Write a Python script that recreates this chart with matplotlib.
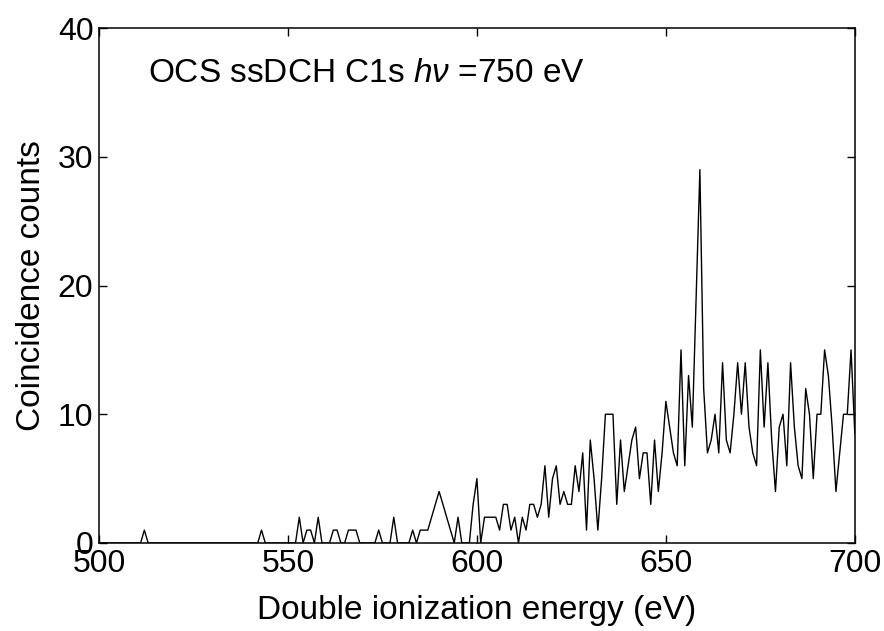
import numpy as np
import matplotlib
matplotlib.use("Agg")
import matplotlib.pyplot as plt

plt.rcParams['font.family'] = ['Liberation Sans', 'DejaVu Sans']
plt.rcParams['mathtext.fontset'] = 'custom'
plt.rcParams['mathtext.rm'] = 'Liberation Sans'
plt.rcParams['mathtext.it'] = 'Liberation Sans:italic'

# energy grid 500..700 eV, 1 eV steps
energy = np.arange(500, 701, 1)

counts = [
    # 500-549
    0, 0, 0, 0, 0, 0, 0, 0, 0, 0,
    0, 0, 1, 0, 0, 0, 0, 0, 0, 0,
    0, 0, 0, 0, 0, 0, 0, 0, 0, 0,
    0, 0, 0, 0, 0, 0, 0, 0, 0, 0,
    0, 0, 0, 1, 0, 0, 0, 0, 0, 0,
    # 550-599
    0, 0, 0, 2, 0, 1, 1, 0, 2, 0,
    0, 0, 1, 1, 0, 0, 1, 1, 1, 0,
    0, 0, 0, 0, 1, 0, 0, 0, 2, 0,
    0, 0, 0, 1, 0, 1, 1, 1, 2, 3,
    4, 3, 2, 1, 0, 2, 0, 0, 0, 3,
    # 600-649
    5, 0, 2, 2, 2, 2, 1, 3, 3, 1,
    2, 0, 2, 1, 3, 3, 2, 3, 6, 2,
    5, 6, 3, 4, 3, 3, 6, 4, 7, 1,
    8, 5, 1, 5, 10, 10, 10, 3, 8, 4,
    6, 8, 9, 5, 7, 7, 3, 8, 4, 7,
    # 650-700
    11, 9, 7, 6, 15, 6, 13, 9, 19, 29,
    12, 7, 8, 10, 7, 14, 8, 7, 10, 14,
    10, 14, 9, 7, 6, 15, 9, 14, 8, 4,
    9, 10, 6, 14, 9, 6, 5, 12, 10, 5,
    10, 10, 15, 13, 9, 4, 7, 10, 10, 15,
    8.5,
]

x_ticks = [500, 550, 600, 650, 700]
y_ticks = [0, 10, 20, 30, 40]

fig = plt.figure(figsize=(8.84, 6.31), dpi=100)
ax = fig.add_axes([0.112, 0.1395, 0.855, 0.816])

ax.plot(energy, counts, color='black', linewidth=1.0)

ax.set_xlim(500, 700)
ax.set_ylim(0, 40)
ax.set_xticks(x_ticks)
ax.set_yticks(y_ticks)
ax.tick_params(direction='in', top=True, right=True, length=6, width=1,
               labelsize=23, pad=4)
for s in ax.spines.values():
    s.set_linewidth(1.1)

ax.set_xlabel('Double ionization energy (eV)', fontsize=24, labelpad=12)
ax.set_ylabel('Coincidence counts', fontsize=24, labelpad=8)

ax.text(513, 36.5, r'OCS ssDCH C1s $h\nu$ =750 eV', fontsize=24, va='center')

fig.savefig('out.png', dpi=100)
